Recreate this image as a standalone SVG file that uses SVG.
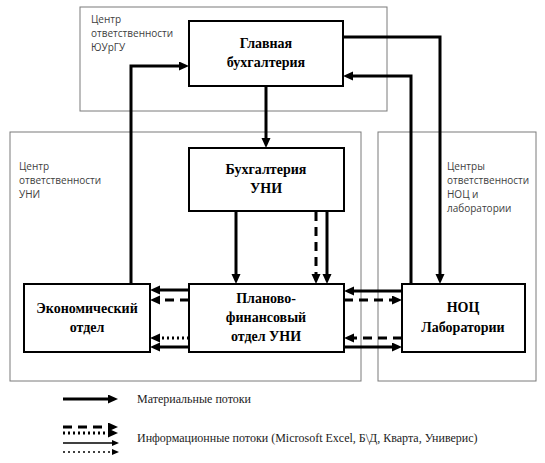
<svg xmlns="http://www.w3.org/2000/svg" width="545" height="463" viewBox="0 0 545 463">
<style>
.zone{fill:none;stroke:#7a7a7a;stroke-width:1}
.box{fill:#fff;stroke:#000;stroke-width:2}
.zt{font-family:"Open Sans","Liberation Sans",sans-serif;font-size:10px;fill:#404040}
.nt{font-family:"Liberation Serif","Times New Roman",serif;font-size:14px;font-weight:bold;fill:#000;text-anchor:middle}
.lt{font-family:"Liberation Serif","Times New Roman",serif;font-size:12px;fill:#222}
.c{fill:none;stroke:#000;stroke-width:3}
.dash{stroke-dasharray:9 6}
.dot{stroke-dasharray:2 3}
.thin{stroke-width:1.5}
</style>
<defs>
<marker id="ah" markerUnits="userSpaceOnUse" markerWidth="12" markerHeight="10" refX="2" refY="4.5" orient="auto">
<path d="M0,0 L10,4.5 L0,9 z" fill="#000"/>
</marker>
<marker id="ahs" markerUnits="userSpaceOnUse" markerWidth="9" markerHeight="8" refX="1" refY="3" orient="auto">
<path d="M0,0 L7,3 L0,6 z" fill="#000"/>
</marker>
</defs>
<rect width="545" height="463" fill="#fff"/>
<g id="zones">
<rect class="zone" x="80" y="7" width="307" height="104"/>
<rect class="zone" x="10" y="132" width="351" height="249"/>
<rect class="zone" x="378" y="132" width="158" height="249"/>
<text class="zt" x="91" y="23">Центр</text>
<text class="zt" x="91" y="37">ответственности</text>
<text class="zt" x="91" y="51">ЮУрГУ</text>
<text class="zt" x="19" y="170">Центр</text>
<text class="zt" x="19" y="184">ответственности</text>
<text class="zt" x="19" y="198">УНИ</text>
<text class="zt" x="447" y="170">Центры</text>
<text class="zt" x="447" y="184">ответственности</text>
<text class="zt" x="447" y="198">НОЦ и</text>
<text class="zt" x="447" y="212">лаборатории</text>
</g>
<g id="connectors">
<polyline class="c" points="131,284 131,66 181,66" marker-end="url(#ah)"/>
<polyline class="c" points="343,37 440,37 440,276" marker-end="url(#ah)"/>
<polyline class="c" points="411,284 411,76 351,76" marker-end="url(#ah)"/>
<line class="c" x1="266" y1="86" x2="266" y2="140" marker-end="url(#ah)"/>
<line class="c" x1="236" y1="211" x2="236" y2="276" marker-end="url(#ah)"/>
<line class="c dash" x1="316" y1="212" x2="316" y2="276" marker-end="url(#ah)"/>
<line class="c" x1="327" y1="211" x2="327" y2="276" marker-end="url(#ah)"/>
<line class="c" x1="189" y1="290" x2="158" y2="290" marker-end="url(#ah)"/>
<line class="c dash" x1="189" y1="300" x2="158" y2="300" marker-end="url(#ah)"/>
<line class="c dot" x1="189" y1="338" x2="158" y2="338" marker-end="url(#ah)"/>
<line class="c" x1="189" y1="347" x2="158" y2="347" marker-end="url(#ah)"/>
<line class="c" x1="402" y1="291" x2="352" y2="291" marker-end="url(#ah)"/>
<line class="c dash" x1="344" y1="300" x2="394" y2="300" marker-end="url(#ah)"/>
<line class="c dash" x1="402" y1="338" x2="352" y2="338" marker-end="url(#ah)"/>
<line class="c" x1="344" y1="347" x2="394" y2="347" marker-end="url(#ah)"/>
</g>
<g id="n-glavnaya">
<rect class="box" x="189" y="21" width="154" height="65"/>
<text class="nt" x="266" y="48">Главная</text>
<text class="nt" x="266" y="67">бухгалтерия</text>
</g>
<g id="n-buh-uni">
<rect class="box" x="189" y="148" width="155" height="63"/>
<text class="nt" x="266" y="174">Бухгалтерия</text>
<text class="nt" x="266" y="193">УНИ</text>
</g>
<g id="n-econ">
<rect class="box" x="24" y="284" width="126" height="68"/>
<text class="nt" x="87" y="313">Экономический</text>
<text class="nt" x="87" y="332">отдел</text>
</g>
<g id="n-pfo">
<rect class="box" x="189" y="284" width="155" height="68"/>
<text class="nt" x="266" y="303">Планово-</text>
<text class="nt" x="266" y="322">финансовый</text>
<text class="nt" x="266" y="341">отдел УНИ</text>
</g>
<g id="n-noc">
<rect class="box" x="402" y="284" width="123" height="68"/>
<text class="nt" x="463" y="312">НОЦ</text>
<text class="nt" x="463" y="332">Лаборатории</text>
</g>
<g id="legend">
<line class="c" x1="63" y1="399" x2="110" y2="399" marker-end="url(#ah)"/>
<line class="c dash" x1="63" y1="427" x2="110" y2="427" marker-end="url(#ah)"/>
<line class="c dot" x1="63" y1="433" x2="110" y2="433" marker-end="url(#ah)"/>
<line class="c thin" x1="63" y1="443" x2="113" y2="443" marker-end="url(#ahs)"/>
<line class="c thin dot" x1="63" y1="452" x2="113" y2="452" stroke-dasharray="1 1" marker-end="url(#ahs)"/>
<text class="lt" x="137" y="403">Материальные потоки</text>
<text class="lt" x="137" y="442">Информационные потоки (Microsoft Excel, Б\Д, Кварта, Универис)</text>
</g>
</svg>
